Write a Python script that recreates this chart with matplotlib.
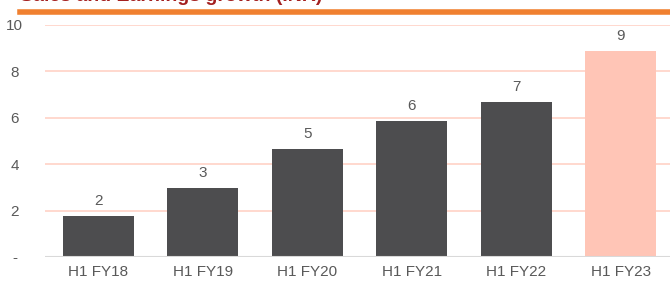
import numpy as np
import matplotlib
matplotlib.use("Agg")
import matplotlib.pyplot as plt

plt.rcParams['font.family'] = ['Liberation Sans', 'DejaVu Sans']

periods = ["H1 FY18", "H1 FY19", "H1 FY20", "H1 FY21", "H1 FY22", "H1 FY23"]
values = [1.78, 2.97, 4.66, 5.86, 6.68, 8.88]
labels = ["2", "3", "5", "6", "7", "9"]
ytick_vals = [0, 2, 4, 6, 8, 10]
ytick_labels = ["-", "2", "4", "6", "8", "10"]

dark = "#4d4d4f"
light = "#ffc5b6"
txt = "#595959"

fig = plt.figure(figsize=(6.7, 2.82), dpi=100)
ax = fig.add_axes([45/670, 25/282, 1 - 45/670, 232/282])

colors = [dark] * 5 + [light]
x = np.arange(len(periods))
ax.bar(x, values, width=0.68, color=colors, zorder=3)
for xi, v, l in zip(x, values, labels):
    ax.text(xi, v + 0.35, l, ha="center", va="bottom", fontsize=11, color=txt)

ax.set_xlim(-0.51, 5.47)
ax.set_ylim(0, 10)
ax.set_yticks(ytick_vals)
ax.set_yticklabels(ytick_labels)
ax.set_xticks(x)
ax.set_xticklabels(periods)
ax.tick_params(length=0, labelsize=11, colors=txt)
ax.tick_params(axis="y", pad=22)
ax.tick_params(axis="x", pad=6)
for lab in ax.get_yticklabels():
    lab.set_horizontalalignment("center")
for s in ax.spines.values():
    s.set_visible(False)
for g in ytick_vals[1:]:
    ax.axhline(g, color="#ffd2c6", lw=1.2, zorder=1)
ax.axhline(0, color="#d9d9d9", lw=1.5, zorder=4)

# header bar and title (title is clipped by the top edge, as in the source)
fig.lines.append(plt.Line2D([20/670, 1], [1 - 12/282, 1 - 12/282], transform=fig.transFigure,
                            color="#f08030", lw=4))
fig.text(20/670, 1 - 1/282, "Sales and Earnings growth (INR)", fontsize=14, fontweight="bold",
         color="#a32020", va="baseline", ha="left")

fig.savefig("out.png", dpi=100)
